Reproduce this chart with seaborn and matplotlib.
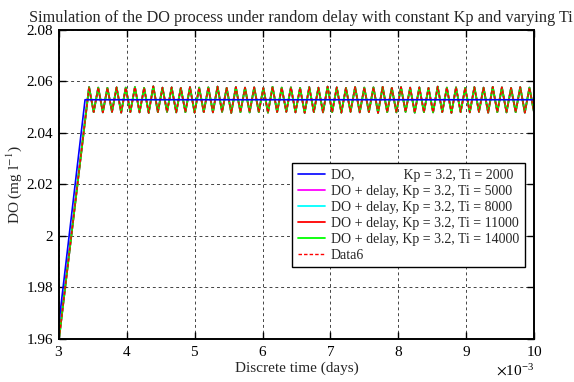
import numpy as np
import pandas as pd
import matplotlib
matplotlib.use("Agg")
import matplotlib.pyplot as plt
import seaborn as sns
from matplotlib.ticker import FuncFormatter, ScalarFormatter

# ---------------- data (time in days) ----------------
title = "Simulation of the DO process under random delay with constant Kp and varying Ti"
labels = [
    "DO,              Kp = 3.2, Ti = 2000",
    "DO + delay, Kp = 3.2, Ti = 5000",
    "DO + delay, Kp = 3.2, Ti = 8000",
    "DO + delay, Kp = 3.2, Ti = 11000",
    "DO + delay, Kp = 3.2, Ti = 14000",
    "Data6",
]

# DO without delay
do_t = [3.0e-3, 3.384e-3, 10.0e-3]
do_y = [1.9665, 2.0529, 2.0529]

# DO with delay: start point, then oscillation peaks / troughs
delay_start_t = 3.0e-3
delay_start_y = 1.960
osc_first_peak_t = 3.443e-3
osc_period = 0.1352e-3
peaks = [2.0578, 2.0576, 2.0575, 2.0577, 2.0576, 2.0578, 2.0575, 2.0581, 2.0576, 2.0577,
         2.0575, 2.0578, 2.0576, 2.0577, 2.0580, 2.0575, 2.0578, 2.0576, 2.0577, 2.0575,
         2.0579, 2.0576, 2.0577, 2.0575, 2.0578, 2.0576, 2.0580, 2.0577, 2.0575, 2.0578,
         2.0576, 2.0577, 2.0579, 2.0575, 2.0578, 2.0576, 2.0577, 2.0575, 2.0580, 2.0576,
         2.0577, 2.0575, 2.0578, 2.0576, 2.0579, 2.0577, 2.0575, 2.0578, 2.0576]
troughs = [2.0481, 2.0480, 2.0482, 2.0479, 2.0481, 2.0480, 2.0478, 2.0481, 2.0482, 2.0480,
           2.0481, 2.0479, 2.0481, 2.0480, 2.0482, 2.0478, 2.0481, 2.0480, 2.0481, 2.0479,
           2.0481, 2.0482, 2.0480, 2.0478, 2.0481, 2.0480, 2.0481, 2.0479, 2.0482, 2.0480,
           2.0481, 2.0478, 2.0481, 2.0480, 2.0482, 2.0479, 2.0481, 2.0480, 2.0481, 2.0478,
           2.0481, 2.0480, 2.0482, 2.0479, 2.0481, 2.0480, 2.0481, 2.0479, 2.0481]

colors = ["#0000ff", "#ff00ff", "#00ffff", "#ff0000", "#00ff00", "#ff0000"]

# build delay series table
osc_t, osc_y = [delay_start_t], [delay_start_y]
for k, (p, tr) in enumerate(zip(peaks, troughs)):
    tp = osc_first_peak_t + k * osc_period
    osc_t += [tp, tp + osc_period / 2]
    osc_y += [p, tr]

df_do = pd.DataFrame({"t": do_t, "y": do_y})
df_osc = pd.DataFrame({"t": osc_t, "y": osc_y})

# ---------------- style ----------------
sns.set_theme(style="ticks")
plt.rcParams["font.family"] = ["Liberation Serif", "DejaVu Serif"]
plt.rcParams["mathtext.fontset"] = "stix"

fig = plt.figure(figsize=(5.74, 3.82), dpi=100)
ax = fig.add_axes([0.1028, 0.1126, 0.8275, 0.809])

handles = {}
for i in range(1, 5):
    sns.lineplot(data=df_osc, x="t", y="y", ax=ax, color=colors[i], lw=1.3,
                 estimator=None, sort=False, label=labels[i])
    handles[i] = ax.lines[-1]
sns.lineplot(data=df_osc, x="t", y="y", ax=ax, color=colors[5], lw=1.0,
             estimator=None, sort=False, label=labels[5], linestyle="--")
handles[5] = ax.lines[-1]
handles[5].set_dashes((2.5, 1.5))
sns.lineplot(data=df_do, x="t", y="y", ax=ax, color=colors[0], lw=1.2,
             estimator=None, sort=False, label=labels[0])
handles[0] = ax.lines[-1]

ax.set_xlim(3e-3, 10e-3)
ax.set_ylim(1.96, 2.08)
ax.set_xticks(np.arange(3, 11) * 1e-3)
ax.set_yticks([1.96, 1.98, 2.0, 2.02, 2.04, 2.06, 2.08])
fmt = ScalarFormatter(useMathText=True)
fmt.set_powerlimits((-3, -3))
ax.xaxis.set_major_formatter(fmt)
ax.yaxis.set_major_formatter(FuncFormatter(lambda v, p: "%g" % round(v, 4)))

ax.grid(True, color="#444444", linestyle=(0, (3, 3)), linewidth=0.7)
ax.tick_params(direction="in", top=True, right=True, length=5, width=1,
               labelsize=11, colors="black", pad=4)
ax.xaxis.get_offset_text().set_fontsize(11)
for s in ax.spines.values():
    s.set_linewidth(1.4)
    s.set_color("black")

ax.set_xlabel("Discrete time (days)", fontsize=11, labelpad=2)
ax.set_ylabel("DO (mg l$^{-1}$)", fontsize=11, labelpad=2)
ax.set_title(title, fontsize=11.7, pad=6, x=0.51)

leg = ax.legend([handles[i] for i in range(6)], labels, loc="upper left",
                bbox_to_anchor=(0.4905, 0.5696), fontsize=10, frameon=True,
                fancybox=False, edgecolor="black", framealpha=1,
                handlelength=2.0, labelspacing=0.22, borderpad=0.4,
                handletextpad=0.4, borderaxespad=0)
leg.get_frame().set_linewidth(1.0)

fig.savefig("out.png", dpi=100)
